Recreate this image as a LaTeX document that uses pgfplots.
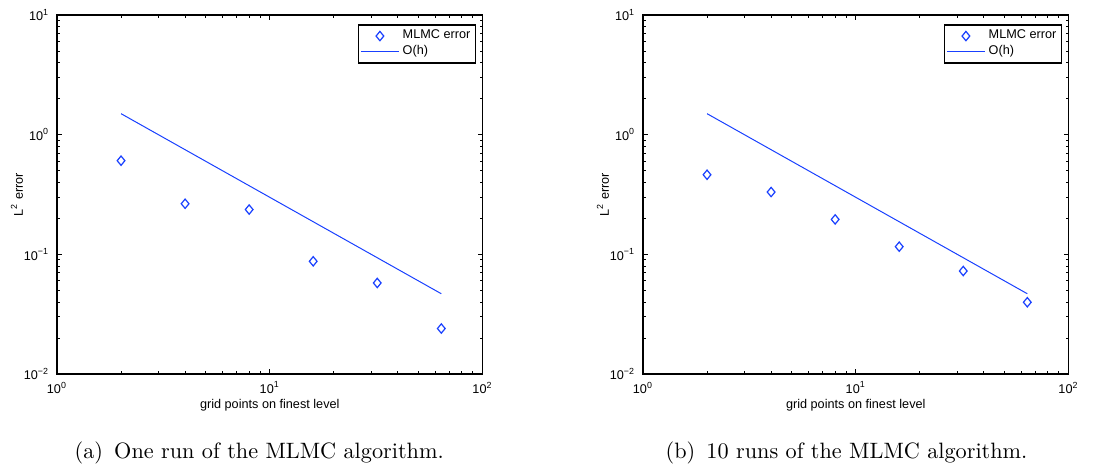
\documentclass[border=0pt]{standalone}
\usepackage{fontspec}
\usepackage{pgfplots}
\pgfplotsset{compat=1.18}
\newfontfamily\arial{Liberation Sans}
\definecolor{mblue}{rgb}{0.1,0.25,1}
\begin{document}
\begin{tikzpicture}
\path[use as bounding box] (-25.65pt,-40.95pt) rectangle (477.45pt,168.3pt);
\begin{axis}[
    xmode=log, ymode=log,
    scale only axis,
    width=191.5pt, height=161.5pt,
    at={(0pt,0pt)}, anchor=south west,
    xmin=1, xmax=100, ymin=0.01, ymax=10,
    xtick={1,10,100},
    xticklabels={10\textsuperscript{0},10\textsuperscript{1},10\textsuperscript{2}},
    ytick={0.01,0.1,1,10},
    yticklabels={10\textsuperscript{−2},10\textsuperscript{−1},10\textsuperscript{0},10\textsuperscript{1}},
    tick label style={font=\fontsize{5.7}{6}\arial},
    major tick length=2.2pt, minor tick length=1.3pt,
    tick style={black, line width=0.4pt},
    axis line style={line width=0.6pt},
    xlabel={grid points on finest level},
    ylabel={L\textsuperscript{2} error},
    label style={font=\fontsize{5.7}{6}\arial},
    xlabel style={at={(axis description cs:0.5,0)}, anchor=center, yshift=-14pt},
    ylabel style={at={(axis description cs:0,0.5)}, anchor=center, yshift=18pt},
    legend style={at={(0.985,0.975)}, anchor=north east, draw=black, line width=0.7pt,
      font=\fontsize{5.7}{6}\arial, inner sep=0.8pt, row sep=-1.5pt,
      nodes={inner sep=1.5pt}},
    legend cell align=left,
]
\addplot[only marks, mark=diamond, mark size=2.1pt, color=mblue, mark options={line width=0.55pt, xscale=1.1}] coordinates {
  (2,0.607) (4,0.265) (8,0.237) (16,0.0875) (32,0.0577) (64,0.024)
};
\addlegendentry{MLMC error}
\addplot[color=mblue, line width=0.45pt, no marks] coordinates {
  (2,1.5) (4,0.75) (8,0.375) (16,0.1875) (32,0.09375) (64,0.046875)
};
\addlegendentry{O(h)}
\end{axis}
\node[anchor=base, font=\normalsize] at (91pt,-38.2pt) {(a)\hspace{5pt}One run of the MLMC algorithm.};
\begin{axis}[
    xmode=log, ymode=log,
    scale only axis,
    width=191.5pt, height=161.5pt,
    at={(263.7pt,0pt)}, anchor=south west,
    xmin=1, xmax=100, ymin=0.01, ymax=10,
    xtick={1,10,100},
    xticklabels={10\textsuperscript{0},10\textsuperscript{1},10\textsuperscript{2}},
    ytick={0.01,0.1,1,10},
    yticklabels={10\textsuperscript{−2},10\textsuperscript{−1},10\textsuperscript{0},10\textsuperscript{1}},
    tick label style={font=\fontsize{5.7}{6}\arial},
    major tick length=2.2pt, minor tick length=1.3pt,
    tick style={black, line width=0.4pt},
    axis line style={line width=0.6pt},
    xlabel={grid points on finest level},
    ylabel={L\textsuperscript{2} error},
    label style={font=\fontsize{5.7}{6}\arial},
    xlabel style={at={(axis description cs:0.5,0)}, anchor=center, yshift=-14pt},
    ylabel style={at={(axis description cs:0,0.5)}, anchor=center, yshift=18pt},
    legend style={at={(0.985,0.975)}, anchor=north east, draw=black, line width=0.7pt,
      font=\fontsize{5.7}{6}\arial, inner sep=0.8pt, row sep=-1.5pt,
      nodes={inner sep=1.5pt}},
    legend cell align=left,
]
\addplot[only marks, mark=diamond, mark size=2.1pt, color=mblue, mark options={line width=0.55pt, xscale=1.1}] coordinates {
  (2,0.463) (4,0.332) (8,0.196) (16,0.116) (32,0.0726) (64,0.0398)
};
\addlegendentry{MLMC error}
\addplot[color=mblue, line width=0.45pt, no marks] coordinates {
  (2,1.5) (4,0.75) (8,0.375) (16,0.1875) (32,0.09375) (64,0.046875)
};
\addlegendentry{O(h)}
\end{axis}
\node[anchor=base, font=\normalsize] at (355.3pt,-38.2pt) {(b)\hspace{5pt}10 runs of the MLMC algorithm.};
\end{tikzpicture}
\end{document}
